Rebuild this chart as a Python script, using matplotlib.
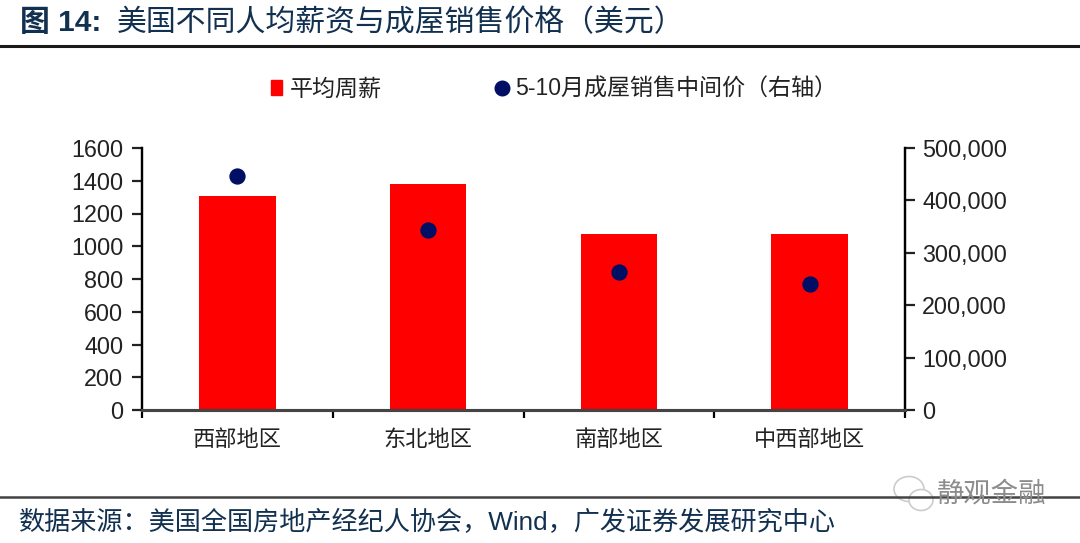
import matplotlib
matplotlib.use('Agg')
import matplotlib.pyplot as plt
from matplotlib.patches import Ellipse
from matplotlib.lines import Line2D
from matplotlib.patches import Patch
from matplotlib.ticker import FuncFormatter

plt.rcParams['font.family'] = ['Liberation Sans', 'Noto Sans CJK SC']

regions = ['西部地区', '东北地区', '南部地区', '中西部地区']
weekly_pay = [1307, 1380, 1075, 1075]
house_price = [446000, 343000, 263000, 240000]
left_ticks = [0, 200, 400, 600, 800, 1000, 1200, 1400, 1600]
right_ticks = [0, 100000, 200000, 300000, 400000, 500000]

W, H = 1080, 543
fig = plt.figure(figsize=(W / 100, H / 100), dpi=100)
ax = fig.add_axes([142 / W, 1 - 410 / H, (905 - 142) / W, (410 - 148) / H])

x = range(len(regions))
ax.bar(x, weekly_pay, width=0.4, color='#ff0000', zorder=2)
ax.set_xlim(-0.5, 3.5)
ax.set_ylim(0, 1600)
ax.set_yticks(left_ticks)
ax.set_xticks([-0.5, 0.5, 1.5, 2.5, 3.5])
ax.set_xticklabels([])
ax.tick_params(axis='y', labelsize=16.8, length=7, width=1.6, pad=6.5, colors='#222222')
ax.tick_params(axis='x', length=5.5, width=1.6)
for i, name in enumerate(regions):
    ax.text(i, -0.078, name, transform=ax.get_xaxis_transform(), ha='center', va='top',
            fontsize=16, color='#222222')

ax2 = ax.twinx()
ax2.scatter(x, house_price, s=115, color='#000f64', zorder=3)
ax2.set_ylim(0, 500000)
ax2.set_yticks(right_ticks)
ax2.yaxis.set_major_formatter(FuncFormatter(lambda v, p: f'{int(v):,}'))
ax2.tick_params(axis='y', labelsize=16.8, length=7, width=1.6, pad=5.5, colors='#222222')

for a in (ax, ax2):
    a.spines['top'].set_visible(False)
    a.spines['left'].set_linewidth(1.6)
    a.spines['right'].set_linewidth(1.6)
    a.spines['bottom'].set_linewidth(2.2)
    a.spines['bottom'].set_color('#444444')

# legend
handles = [Patch(color='#ff0000'),
           Line2D([], [], marker='o', ls='', color='#000f64', markersize=10.5)]
fig.legend(handles, ['平均周薪', '5-10月成屋销售中间价（右轴）'], loc='center',
           bbox_to_anchor=(554 / W, 1 - 89 / H), ncol=2, frameon=False, fontsize=16.6,
           handlelength=0.48, handleheight=0.65, handletextpad=0.35, columnspacing=4.96,
           labelcolor='#222222')

# title, source and rules
fig.text(20 / W, 1 - 23 / H, '图 14:', fontsize=21.5, color='#12304f', va='center', fontweight='bold')
fig.text(117 / W, 1 - 23 / H, '美国不同人均薪资与成屋销售价格（美元）', fontsize=21.5,
         color='#12304f', va='center')
fig.add_artist(Line2D([0, 1], [1 - 46 / H] * 2, color='#1a1a1a', lw=2.2))
fig.add_artist(Line2D([0, 1], [1 - 497 / H] * 2, color='#444444', lw=1.8))
fig.text(19 / W, 1 - 522 / H, '数据来源：美国全国房地产经纪人协会，Wind，广发证券发展研究中心',
         fontsize=18.8, color='#12304f', va='center')

# watermark
fig.add_artist(Ellipse((909 / W, 1 - 489 / H), 30 / W, 25 / H, fc='white', ec='#cccccc', lw=1.2))
fig.add_artist(Ellipse((921 / W, 1 - 500 / H), 24 / W, 21 / H, fc='white', ec='#cccccc', lw=1.2))
fig.text(937 / W, 1 - 495 / H, '静观金融', fontsize=19.7, color='#8c8c8c', va='center')

fig.savefig('out.png', dpi=100)
